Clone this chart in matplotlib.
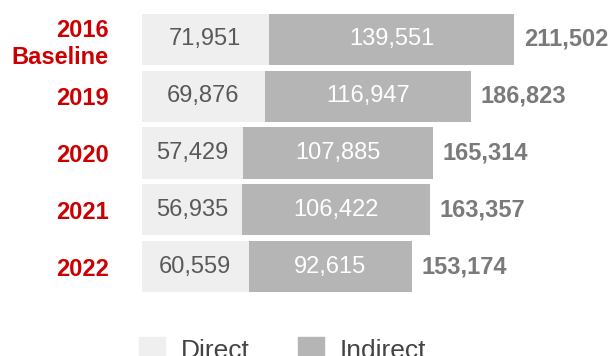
import matplotlib.pyplot as plt
from matplotlib.patches import Patch

plt.rcParams['font.family'] = ['Liberation Sans', 'DejaVu Sans']

# data
years = ['2016\nBaseline', '2019', '2020', '2021', '2022']
direct = [71951, 69876, 57429, 56935, 60559]
indirect = [139551, 116947, 107885, 106422, 92615]
totals = [211502, 186823, 165314, 163357, 153174]

c_direct = '#efefef'
c_indirect = '#b5b5b5'
c_red = '#cc0000'

W, H = 613, 356
fig = plt.figure(figsize=(W / 100, H / 100), dpi=100)
ax = fig.add_axes([142 / W, 1 - 295 / H, 440 / W, 284 / H])

ypos = list(range(len(years)))
ax.barh(ypos, direct, height=0.9, color=c_direct, label='Direct')
ax.barh(ypos, indirect, left=direct, height=0.9, color=c_indirect, label='Indirect')

for y, d, i, t in zip(ypos, direct, indirect, totals):
    ax.text(d / 2, y, f'{d:,}', ha='center', va='center', fontsize=17, color='#595959')
    ax.text(d + i / 2, y, f'{i:,}', ha='center', va='center', fontsize=17, color='white')
    ax.text(t + 5500, y, f'{t:,}', ha='left', va='center', fontsize=17,
            color='#7a7a7a', fontweight='bold')

ax.set_xlim(0, 250000)
ax.set_ylim(len(years) - 0.5, -0.5)
ax.set_yticks(ypos)
ax.set_yticklabels(years, fontsize=17, fontweight='bold', color=c_red)
ax.tick_params(axis='y', length=0, pad=24)
ax.set_xticks([])
for s in ax.spines.values():
    s.set_visible(False)

handles = [Patch(color=c_direct, label='Direct'), Patch(color=c_indirect, label='Indirect')]
fig.legend(handles=handles, loc='upper left', bbox_to_anchor=(139 / W, 1 - 337 / H),
           ncol=2, frameon=False, fontsize=19, borderpad=0, borderaxespad=0,
           handlelength=1.0, handleheight=1.0, handletextpad=0.6, columnspacing=1.8,
           labelcolor='#444444')

fig.savefig('out.png', dpi=100)
